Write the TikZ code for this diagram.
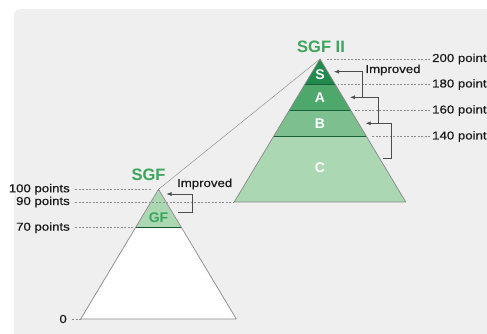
\documentclass[tikz,border=0pt]{standalone}
\usepackage{fontspec}
\setmainfont{Liberation Sans}
\newfontfamily\ptfont{Liberation Sans}[FakeStretch=1.15,FakeBold=0.4]
\usetikzlibrary{arrows.meta}
\definecolor{bggray}{HTML}{EFEFEF}
\definecolor{sgreen}{HTML}{1F8A4C}
\definecolor{agreen}{HTML}{4FA86B}
\definecolor{bgreen}{HTML}{7DBF8E}
\definecolor{cgreen}{HTML}{ABD7B3}
\definecolor{titlegreen}{HTML}{3BA55C}
\definecolor{edgegray}{HTML}{8A8A8A}
\tikzset{
  pts/.style={font=\ptfont\fontsize{11.5}{12}\selectfont, text=black!90, inner sep=0pt},
  guide/.style={draw=black!45, line width=0.45pt, dash pattern=on 2pt off 1.5pt},
  improved/.style={draw=black!70, line width=0.6pt},
  improvedarrow/.style={improved, -{Latex[length=5pt,width=4pt]}},
  title/.style={font=\bfseries\fontsize{16.5}{16.5}\selectfont, text=titlegreen, inner sep=0pt},
  band/.style={font=\bfseries\fontsize{14}{14}\selectfont, text=white, inner sep=0pt},
  pyr/.style={draw=edgegray, line width=0.7pt, line join=round},
}
\begin{document}
\begin{tikzpicture}[x=1pt,y=-1pt]
\useasboundingbox (0,0) rectangle (487,333);
\fill[bggray, rounded corners=6pt] (14,9) rectangle (495,341);
% SGF II pyramid
\coordinate (T) at (320,59);
\coordinate (SL) at (304.7,84.5);
\coordinate (SR) at (335.3,84.5);
\coordinate (AL) at (289.1,110.5);
\coordinate (AR) at (350.9,110.5);
\coordinate (BL) at (273.5,136.5);
\coordinate (BR) at (366.5,136.5);
\coordinate (CL) at (234.2,202);
\coordinate (CR) at (405.8,202);
\fill[sgreen] (T) -- (SR) -- (SL) -- cycle;
\fill[agreen] (SL) -- (SR) -- (AR) -- (AL) -- cycle;
\fill[bgreen] (AL) -- (AR) -- (BR) -- (BL) -- cycle;
\fill[cgreen] (BL) -- (BR) -- (CR) -- (CL) -- cycle;
\draw[draw=sgreen!70!black, line width=0.5pt] (SL) -- (SR) (AL) -- (AR) (BL) -- (BR);
\draw[pyr] (T) -- (CR) -- (CL) -- cycle;
% SGF pyramid
\coordinate (t) at (158.5,189.3);
\coordinate (gl) at (135.5,227.7);
\coordinate (gr) at (181.5,227.7);
\coordinate (bl) at (80.7,319);
\coordinate (br) at (236.3,319);
\fill[white] (t) -- (br) -- (bl) -- cycle;
\fill[cgreen] (t) -- (gr) -- (gl) -- cycle;
\draw[draw=sgreen!60!black, line width=0.5pt] (gl) -- (gr);
\draw[pyr] (t) -- (br) -- (bl) -- cycle;
\draw[draw=black!45, line width=0.45pt] (t) -- (T);
% titles and bands
\node[title] (sgf2) at (321,47) {SGF II};
\node[title] (sgf) at (148.5,175) {SGF};
\node[band] (s) at (320,75) {S};
\node[band] (a) at (320,98) {A};
\node[band] (b) at (320,124) {B};
\node[band] (c) at (320,168) {C};
\node[band, text=titlegreen] (gf) at (158.5,217.3) {GF};
% point levels
\node[pts, anchor=west] (p200) at (432,59) {200 points};
\node[pts, anchor=west] (p180) at (432,84.5) {180 points};
\node[pts, anchor=west] (p160) at (432,110.5) {160 points};
\node[pts, anchor=west] (p140) at (432,136.5) {140 points};
\node[pts, anchor=east] (p100) at (70,189.3) {100 points};
\node[pts, anchor=east] (p90) at (70,202) {90 points};
\node[pts, anchor=east] (p70) at (70,227.7) {70 points};
\node[pts, anchor=east] (p0) at (67,319) {0};
\coordinate (g200) at (325,59);
\coordinate (g180) at (338,84.5);
\coordinate (g160) at (355,110.5);
\coordinate (g140) at (372,136.5);
\coordinate (g100) at (151.5,189.3);
\draw[guide] (p200.west) ++(-2,0) -- (g200);
\draw[guide] (p180.west) ++(-2,0) -- (g180);
\draw[guide] (p160.west) ++(-2,0) -- (g160);
\draw[guide] (p140.west) ++(-2,0) -- (g140);
\draw[guide] (p100.east) ++(5,0) -- (g100);
\draw[guide] (p90.east) ++(5,0) -- (CL);
\draw[guide] (p70.east) ++(5,0) -- (gl);
\draw[guide] (p0.east) ++(5,0) -- (bl);
% improved brackets
\coordinate (i3) at (382.7,158.3);
\coordinate (i2) at (378.3,123.3);
\coordinate (i1) at (362.7,97.3);
\draw[improvedarrow] (i3) -- (391,158.3) -- (391,123.3) -- (365.7,123.3);
\draw[improvedarrow] (i2) -- (378.3,97.3) -- (350,97.3);
\draw[improvedarrow] (i1) -- (362.7,71.7) -- (334,71.7);
\node[pts] (imp2) at (393,70) {Improved};
\coordinate (i0) at (178.3,212);
\draw[improvedarrow] (i0) -- (192.5,212) -- (192.5,194) -- (166.5,194);
\node[pts] (imp1) at (204.7,184) {Improved};
\end{tikzpicture}
\end{document}
